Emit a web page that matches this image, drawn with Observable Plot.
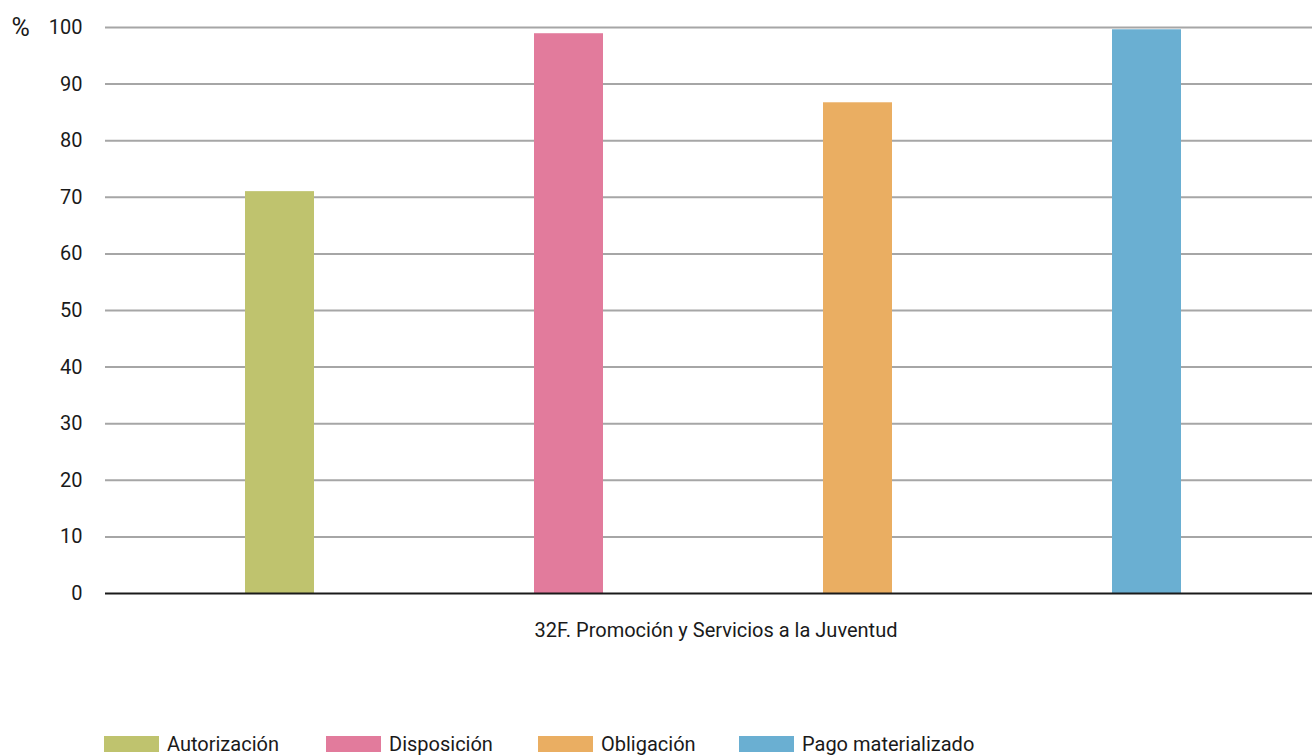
<!DOCTYPE html>
<html><head><meta charset="utf-8">
<script src="https://cdn.jsdelivr.net/npm/d3@7"></script>
<script src="https://cdn.jsdelivr.net/npm/@observablehq/plot@0.6"></script>
<style>
html,body{margin:0;padding:0;background:#fff;}
body{width:1312px;height:756px;position:relative;overflow:hidden;font-family:Roboto,"DejaVu Sans",sans-serif;}
#chart{position:absolute;left:0;top:0;}
#legend{position:absolute;left:104px;top:733px;display:flex;font-size:20px;color:#1a1a1a;line-height:22px;}
.item{display:flex;align-items:center;position:absolute;white-space:nowrap;}
.sw{width:55px;height:16px;margin-right:8px;}
</style></head>
<body>
<div id="chart"></div>
<div id="legend"></div>
<script>
const category = "32F. Promoción y Servicios a la Juventud";
const series = ["Autorización", "Disposición", "Obligación", "Pago materializado"];
const values = [71.0, 98.9, 86.7, 99.6];
const colors = ["#bfc36e", "#e27b9c", "#eaae62", "#6aafd2"];
const yTicks = [0, 10, 20, 30, 40, 50, 60, 70, 80, 90, 100];

const data = series.map((s, i) => ({series: s, value: values[i]}));

const chart = Plot.plot({
  width: 1312,
  height: 660,
  marginLeft: 105,
  marginRight: 0,
  marginTop: 27,
  marginBottom: 67,
  style: {fontFamily: "Roboto, sans-serif", fontSize: "20px", color: "#1a1a1a", background: "#fff"},
  x: {domain: series, paddingInner: 0.7617, paddingOuter: 0.4655, align: 0.517, axis: null},
  y: {domain: [0, 100], ticks: yTicks, label: null},
  color: {domain: series, range: colors},
  marks: [
    Plot.gridY(yTicks.filter(d => d > 0), {stroke: "#a6a6a6", strokeOpacity: 1, strokeWidth: 2}),
    Plot.axisY(yTicks, {tickSize: 0, tickPadding: 23, fontSize: 20, label: null}),
    Plot.barY(data, {x: "series", y: "value", fill: "series"}),
    Plot.ruleY([0], {stroke: "#1a1a1a", strokeWidth: 2}),
    Plot.text([category], {frameAnchor: "bottom", dx: 7, dy: 43, text: d => d, fontSize: 20, fill: "#1a1a1a"}),
    Plot.text(["%"], {frameAnchor: "top-left", lineAnchor: "middle", textAnchor: "start", dx: -94, dy: 0, text: d => d, fontSize: 25, fill: "#1a1a1a"})
  ]
});
document.getElementById("chart").appendChild(chart);

const lefts = [0, 222, 434, 635];
const legend = document.getElementById("legend");
series.forEach((s, i) => {
  const it = document.createElement("div");
  it.className = "item";
  it.style.left = lefts[i] + "px";
  const sw = document.createElement("div");
  sw.className = "sw";
  sw.style.background = colors[i];
  const t = document.createElement("span");
  t.textContent = s;
  it.appendChild(sw); it.appendChild(t);
  legend.appendChild(it);
});
</script>
</body></html>
